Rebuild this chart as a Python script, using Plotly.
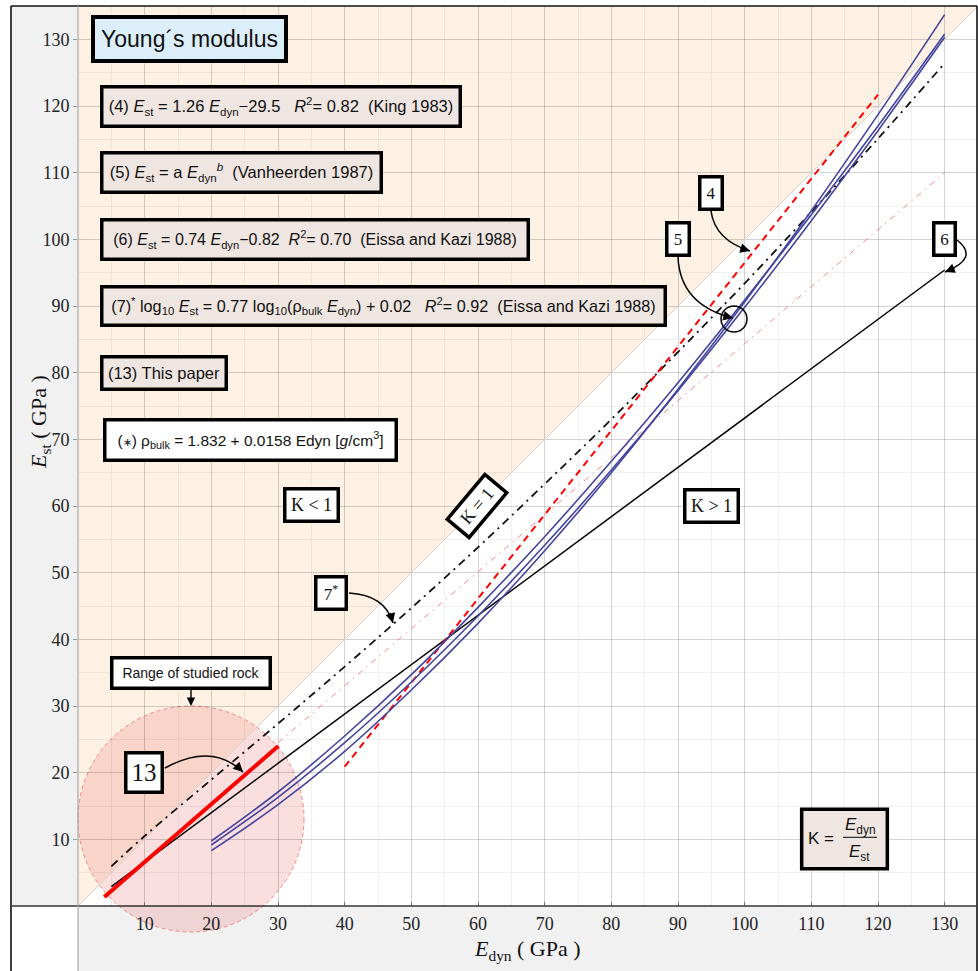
import plotly.graph_objects as go

# ---------------- data (GPa) ----------------
# (4) King 1983 : Est = 1.26 Edyn - 29.5
edyn_king = [40, 120]
est_king = [20.9, 121.7]

# (5) Vanheerden 1987 : Est = a Edyn^b, three coefficient sets
edyn_vh = [20, 30, 40, 50, 60, 70, 80, 90, 100, 110, 120, 130]
est_vh_a = [9.75, 17.1, 25.5, 34.7, 44.8, 55.4, 66.7, 78.5, 90.9, 103.7, 117.0, 130.8]
est_vh_b = [9.15, 16.3, 24.5, 33.6, 43.5, 54.1, 65.4, 77.3, 89.8, 102.8, 116.3, 130.3]
est_vh_c = [8.3, 15.2, 23.2, 32.4, 42.4, 53.3, 65.0, 77.5, 90.6, 104.3, 118.7, 133.7]

# (6) Eissa and Kazi 1988 : Est = 0.74 Edyn - 0.82
edyn_eissa = [5, 130]
est_eissa = [2.9, 95.4]

# (7*) Eissa and Kazi 1988 with bulk density
edyn_eissa_rho = [5, 10, 20, 30, 40, 50, 60, 70, 80, 90, 100, 110, 120, 130]
est_eissa_rho = [5.95, 10.5, 18.95, 27.35, 35.9, 44.7, 53.8, 63.3, 73.0, 83.1, 93.4, 104.1, 115.1, 126.4]

# thin dash-dot reference line
edyn_thin = [30, 130]
est_thin = [24.5, 110.0]

# (13) this paper
edyn_paper = [3.95, 30.05]
est_paper = [1.35, 24.0]

# K = 1 line
edyn_k1 = [0, 135]
est_k1 = [0, 135]

# range of studied rock (centre and radius, GPa)
range_centre = (16.95, 13.05)
range_radius = 16.95

x_ticks = list(range(10, 131, 10))
y_ticks = list(range(10, 131, 10))
minor_ticks = list(range(5, 136, 5))

XMAX, YMAX = 134.85, 135.0
W, H = 978, 971
ML, MR, MT, MB = 78, 1, 6, 65
PW, PH = W - ML - MR, H - MT - MB

SANS = "Liberation Sans"
SERIF = "Liberation Serif"

fig = go.Figure()


def add_line(x, y, color, width, dash=None, shape="linear"):
    fig.add_trace(go.Scatter(
        x=x, y=y, mode="lines", hoverinfo="skip", showlegend=False,
        line=dict(color=color, width=width, dash=dash, shape=shape)))


add_line(edyn_k1, est_k1, "#d9d2cc", 1)
add_line(edyn_thin, est_thin, "#ef8a8a", 1, "6px,5px,1.5px,5px")
add_line(edyn_eissa_rho, est_eissa_rho, "#111111", 1.8, "8px,5px,2px,5px", "spline")
add_line(edyn_eissa, est_eissa, "#000000", 1.5)
add_line(edyn_king, est_king, "#ff0000", 2, "7px,5px")
for est in (est_vh_a, est_vh_b, est_vh_c):
    add_line(edyn_vh, est, "#44449e", 1.6, None, "spline")
add_line(edyn_paper, est_paper, "#ff0000", 4)

# ---------------- background shapes ----------------
def fx(px_off):
    return px_off / PW


def fy(px_off):
    return px_off / PH


shapes = []
gray = "#f1f1f1"
# left and bottom panels
shapes.append(dict(type="rect", xref="paper", yref="paper", layer="below",
                   x0=fx(-67), x1=0, y0=0, y1=1, fillcolor=gray, line_width=0))
shapes.append(dict(type="rect", xref="paper", yref="paper", layer="below",
                   x0=0, x1=1, y0=fy(-MB), y1=0, fillcolor=gray, line_width=0))
# K < 1 region
d = min(XMAX, YMAX)
shapes.append(dict(type="path", xref="paper", yref="paper", layer="below",
                   path=f"M 0,0 L {d / XMAX},{d / YMAX} L 1,1 L 0,1 Z",
                   fillcolor="#fdf1e3", line_width=0))
# range of studied rock
cx, cy = range_centre
shapes.append(dict(type="circle", xref="paper", yref="paper", layer="below",
                   x0=(cx - range_radius) / XMAX, x1=(cx + range_radius) / XMAX,
                   y0=(cy - range_radius) / YMAX, y1=(cy + range_radius) / YMAX,
                   fillcolor="rgba(238,105,105,0.21)",
                   line=dict(color="#ee8888", width=1, dash="4px,3px")))

# frame
frame = dict(color="#111111", width=1.6)
shapes += [
    dict(type="line", xref="paper", yref="paper", layer="above",
         x0=fx(-67), x1=fx(-67), y0=fy(-MB), y1=1, line=frame),
    dict(type="line", xref="paper", yref="paper", layer="above",
         x0=fx(-67), x1=1, y0=1, y1=1, line=frame),
    dict(type="line", xref="paper", yref="paper", layer="above",
         x0=1, x1=1, y0=fy(-MB), y1=1, line=frame),
    dict(type="line", xref="paper", yref="paper", layer="above",
         x0=fx(-67), x1=1, y0=0, y1=0, line=dict(color="#333333", width=1.5)),
    dict(type="line", xref="paper", yref="paper", layer="above",
         x0=0, x1=0, y0=fy(-MB), y1=1, line=dict(color="#a8a8a8", width=1.2)),
]

# curved pointer arrows (start, control, tip)
curves = [
    ((13.05, 20.7), (20.1, 24.6), (24.75, 20.1)),
    ((40.65, 46.95), (46.05, 46.65), (47.25, 42.45)),
    ((94.95, 104.25), (95.55, 99.9), (100.8, 98.25)),
    ((90.0, 97.35), (90.3, 90.15), (98.25, 88.2)),
    ((131.85, 99.9), (135.3, 97.2), (130.05, 95.1)),
]
for (x0, y0), (xc, yc), (x1, y1) in curves:
    shapes.append(dict(type="path", xref="x", yref="y", layer="above",
                       path=f"M {x0},{y0} Q {xc},{yc} {x1},{y1}",
                       line=dict(color="#000000", width=1.5)))
# marker circle around curve (5)
shapes.append(dict(type="circle", xref="x", yref="y", layer="above",
                   x0=96.45, x1=100.35, y0=86.1, y1=90.0,
                   line=dict(color="#000000", width=1.5)))
# K definition box with its fraction bar
shapes.append(dict(type="rect", xref="x", yref="y", layer="above",
                   x0=108.55, x1=121.4, y0=5.6, y1=14.5, fillcolor="#efe6e2",
                   line=dict(color="#000000", width=3.5)))
shapes.append(dict(type="line", xref="x", yref="y", layer="above",
                   x0=114.75, x1=119.85, y0=10.3, y1=10.3,
                   line=dict(color="#333333", width=1.2)))

# ---------------- annotations ----------------
ann = []


def box(text, x, y, w, h, size=16.5, family=SANS, bg="#efe6e2", bw=3.5, angle=0, **kw):
    ann.append(dict(text=text, x=x, y=y, xref="x", yref="y", showarrow=False,
                    xanchor="center", yanchor="middle",
                    width=w - 2 * bw, height=h - 2 * bw, borderpad=0,
                    borderwidth=bw, bordercolor="#000000", bgcolor=bg,
                    textangle=angle, font=dict(family=family, size=size, color="#111111"),
                    **kw))


E = "<i>E</i>"
box("Young\u00b4s modulus", 16.65, 130.05, 197, 48, size=23, bg="#ddeefb", bw=4)
box(f"(4) {E}<sub>st</sub> = 1.26 {E}<sub>dyn</sub>\u221229.5   <i>R</i><sup>2</sup>= 0.82  (King 1983)",
    30.45, 119.9, 362, 43)
box(f"(5) {E}<sub>st</sub> = a {E}<sub>dyn</sub><sup><i>b</i></sup>  (Vanheerden 1987)",
    24.5, 110.0, 283, 43)
box(f"(6) {E}<sub>st</sub> = 0.74 {E}<sub>dyn</sub>\u22120.82  <i>R</i><sup>2</sup>= 0.70  (Eissa and Kazi 1988)",
    35.55, 99.95, 430, 43, size=16)
box(f"(7)<sup>*</sup> log<sub>10</sub> {E}<sub>st</sub> = 0.77 log<sub>10</sub>(\u03c1<sub>bulk</sub> {E}<sub>dyn</sub>) + 0.02   "
    f"<i>R</i><sup>2</sup>= 0.92  (Eissa and Kazi 1988)",
    45.8, 90.0, 567, 42, size=16.2)
box("(13) This paper", 12.9, 79.95, 128, 36)
box("(<span style='font-size:11px'>\u2217</span>) \u03c1<sub>bulk</sub> = 1.832 + 0.0158 Edyn "
    "[<i>g</i>/cm<sup>3</sup>]",
    25.9, 69.95, 295, 44, size=15.5, bg="#ffffff")
box("K < 1", 34.95, 60.1, 57, 36, size=18, family=SERIF, bg="#ffffff")
box("K > 1", 95.0, 60.0, 57, 36, size=18, family=SERIF, bg="#ffffff")
box("K = 1", 59.85, 60.0, 62, 32, size=18, family=SERIF, bg="#ffffff", angle=-50)
box("4", 94.95, 106.95, 26, 36, size=17, family=SERIF, bg="#ffffff")
box("5", 90.0, 100.05, 26, 36, size=17, family=SERIF, bg="#ffffff")
box("6", 130.0, 100.05, 25, 36, size=17, family=SERIF, bg="#ffffff")
box("7<sup>*</sup>", 37.95, 46.95, 34, 36, size=17, family=SERIF, bg="#ffffff")
box("13", 9.9, 20.0, 40, 43, size=25, family=SERIF, bg="#ffffff")

# range label with its pointer
ann.append(dict(text="Range of studied rock", x=16.95, y=30.0, xref="x", yref="y",
                showarrow=True, ax=0, ay=-33, arrowhead=2, arrowsize=1.2, arrowwidth=1.4,
                arrowcolor="#000000", width=162 - 7, height=34 - 7, borderpad=0,
                borderwidth=3.5, bordercolor="#000000", bgcolor="#ffffff",
                font=dict(family=SANS, size=14, color="#111111")))

# K definition text pieces
for text, x, y in [("K =", 111.45, 10.2),
                   (f"{E}<sub>dyn</sub>", 117.3, 12.0),
                   (f"{E}<sub>st</sub>", 117.2, 7.9)]:
    ann.append(dict(text=text, x=x, y=y, xref="x", yref="y", showarrow=False,
                    xanchor="center", yanchor="middle",
                    font=dict(family=SANS, size=17, color="#111111")))

# arrowheads at the curve tips (tail offset in px along the end tangent)
heads = [((24.75, 20.1), -8.6, -8.4),
         ((47.25, 42.45), -3.3, -11.5),
         ((100.8, 98.25), -11.4, -3.6),
         ((98.25, 88.2), -11.7, -2.9),
         ((130.05, 95.1), 11.1, -4.5)]
for (x, y), ax, ay in heads:
    ann.append(dict(text="", x=x, y=y, xref="x", yref="y", showarrow=True,
                    ax=ax, ay=ay, arrowhead=2, arrowsize=1.3, arrowwidth=1.5,
                    arrowcolor="#000000"))

# axis titles
ann.append(dict(text="<i>E</i><sub>dyn</sub> ( GPa )", x=0.5, y=fy(-44), xref="paper", yref="paper",
                xanchor="center", yanchor="middle",
                showarrow=False, font=dict(family=SERIF, size=22, color="#111111")))
ann.append(dict(text="<i>E</i><sub>st</sub> ( GPa )", x=fx(-38), y=fy(484), xref="paper", yref="paper",
                xanchor="center", yanchor="middle",
                showarrow=False, textangle=-90, font=dict(family=SERIF, size=22, color="#111111")))

grid_major = "rgba(0,0,0,0.12)"
grid_minor = "rgba(0,0,0,0.055)"

fig.update_xaxes(range=[0, XMAX], tickmode="array", tickvals=x_ticks,
                 showgrid=True, gridcolor=grid_major, gridwidth=1,
                 minor=dict(tickvals=minor_ticks, showgrid=True, gridcolor=grid_minor, ticks=""),
                 ticks="inside", ticklen=4, tickcolor="#777777", ticklabelstandoff=5,
                 showline=False, zeroline=False,
                 tickfont=dict(family=SERIF, size=18, color="#222222"))
fig.update_yaxes(range=[0, YMAX], tickmode="array", tickvals=y_ticks,
                 showgrid=True, gridcolor=grid_major, gridwidth=1,
                 minor=dict(tickvals=minor_ticks, showgrid=True, gridcolor=grid_minor, ticks=""),
                 ticks="outside", ticklen=4, tickcolor="#999999",
                 showline=False, zeroline=False,
                 tickfont=dict(family=SERIF, size=18, color="#222222"))

fig.update_layout(width=W, height=H, margin=dict(l=ML, r=MR, t=MT, b=MB),
                  paper_bgcolor="#ffffff", plot_bgcolor="#ffffff",
                  shapes=shapes, annotations=ann, showlegend=False)

fig.write_html("out.html")
